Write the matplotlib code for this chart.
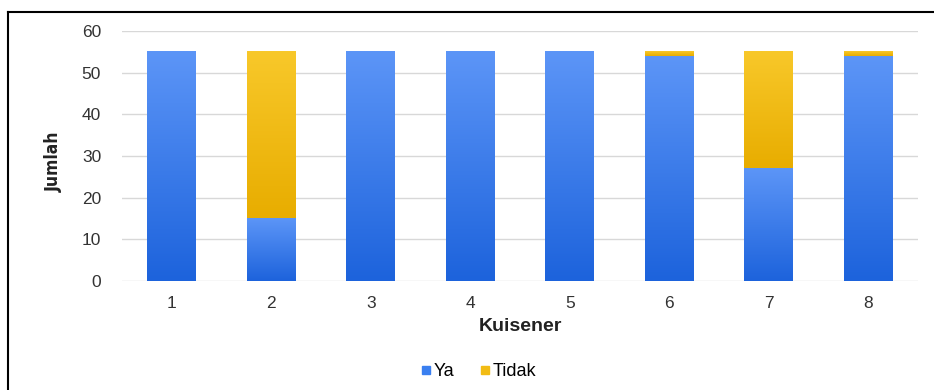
import matplotlib.pyplot as plt
import numpy as np
from matplotlib.lines import Line2D
from matplotlib.colors import LinearSegmentedColormap

# data
kuisener = ['1', '2', '3', '4', '5', '6', '7', '8']
ya = [55, 15, 55, 55, 55, 54, 27, 54]
tidak = [0, 40, 0, 0, 0, 1, 28, 1]

plt.rcParams['font.family'] = ['Liberation Sans', 'DejaVu Sans']

fig = plt.figure(figsize=(9.34, 3.9), dpi=100)
ax = fig.add_axes([122 / 934, 1 - 281 / 390, 796 / 934, 250 / 390])

x = np.arange(1, len(kuisener) + 1)
b1 = ax.bar(x, ya, width=0.49, color='none', label='Ya')
b2 = ax.bar(x, tidak, width=0.49, bottom=ya, color='none', label='Tidak')

blue_cm = LinearSegmentedColormap.from_list('b', ['#1d63dc', '#5c95f7'])
yel_cm = LinearSegmentedColormap.from_list('y', ['#e8ad00', '#f8c82a'])
grad = np.linspace(0, 1, 100).reshape(-1, 1)

# gradient fill, one image per bar segment
for bars, cm in [(b1, blue_cm), (b2, yel_cm)]:
    for r in bars:
        if r.get_height() <= 0:
            continue
        x0, y0 = r.get_x(), r.get_y()
        ax.imshow(grad, cmap=cm, origin='lower', aspect='auto',
                  extent=[x0, x0 + r.get_width(), y0, y0 + r.get_height()],
                  zorder=2)

ax.set_xlim(0.5, 8.5)
ax.set_ylim(0, 60)
ax.set_xticks(x)
ax.set_xticklabels(kuisener)
ax.set_yticks(range(0, 61, 10))
ax.tick_params(length=0, labelsize=12.5, colors='#333333')
ax.tick_params(axis='y', pad=15)
ax.tick_params(axis='x', pad=11)
ax.grid(axis='y', color='#d8d8d8', linewidth=1)
ax.set_axisbelow(True)
for s in ax.spines.values():
    s.set_visible(False)

ax.set_xlabel('Kuisener', fontsize=14, fontweight='bold', color='#222222', labelpad=5)
fig.text(54 / 934, 1 - 162 / 390, 'Jumlah', rotation=90, ha='center', va='center',
         fontsize=12.5, fontweight='bold', fontstretch='condensed', color='#222222',
         family='DejaVu Sans')

handles = [Line2D([], [], marker='s', linestyle='none', color='#3a7ff0', markersize=6),
           Line2D([], [], marker='s', linestyle='none', color='#f2bc14', markersize=6)]
fig.legend(handles, ['Ya', 'Tidak'], loc='center', bbox_to_anchor=(478 / 934, 1 - 372 / 390),
           ncol=2, frameon=False, fontsize=13, handletextpad=0.1, columnspacing=1.3,
           handlelength=0.7)

# frame around figure (top and left visible)
fig.add_artist(Line2D([8 / 934, 8 / 934], [0, 1 - 12 / 390], color='black', linewidth=1.5))
fig.add_artist(Line2D([8 / 934, 1], [1 - 12 / 390, 1 - 12 / 390], color='black', linewidth=1.5))

plt.savefig('out.png', dpi=100)
